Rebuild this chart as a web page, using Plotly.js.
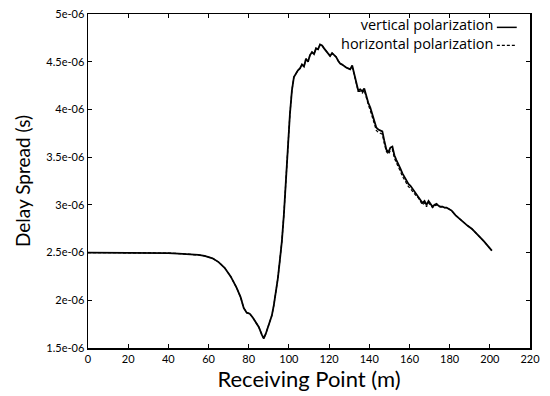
<!DOCTYPE html>
<html>
<head>
<meta charset="utf-8">
<script src="https://cdn.plot.ly/plotly-3.0.1.min.js"></script>
<style>html,body{margin:0;padding:0;background:#fff;}#chart{width:550px;height:396px;}</style>
</head>
<body>
<div id="chart"></div>
<script>
// Receiving point (m)
var xVert = [0,10,20,30,40,45,50,55,58,62,65,68,71,74,76,77.5,79,80.5,82,83.5,85,86.5,87.5,88.5,89.5,90.5,91.5,92.5,93.5,94.5,95.5,96.5,97.5,98.5,99.5,100.5,101.5,102.5,103.5,104.5,105.5,106.5,107.5,108.5,109.5,110.5,111.5,112.5,113.5,114.5,115.5,116.5,117.5,118.5,119.5,120.5,121.5,122.5,123.5,124.5,125.5,126.5,127.5,128.5,129.5,130.5,131.5,132.5,133.5,134.5,135.5,136.5,137.5,138.5,139.5,140.5,141.5,142.5,143.5,144.5,145.5,146.5,147.5,148.5,149.5,150.5,151.5,152.5,153.5,154.5,155.5,156.5,157.5,158.5,159.5,160.5,161.5,162.5,163.5,164.5,165.5,166.5,167.5,168.5,169.5,170.5,171.5,172.5,173.5,174.5,175.5,176.5,177.5,178.5,179.5,181,183,185,187,189,191,193,195,197,199,201];
// Delay spread (s), vertical polarization
var yVert = [2.50e-6,2.50e-6,2.50e-6,2.50e-6,2.495e-6,2.49e-6,2.485e-6,2.475e-6,2.465e-6,2.44e-6,2.40e-6,2.34e-6,2.25e-6,2.13e-6,2.03e-6,1.92e-6,1.87e-6,1.86e-6,1.82e-6,1.77e-6,1.72e-6,1.64e-6,1.60e-6,1.65e-6,1.71e-6,1.76e-6,1.84e-6,1.95e-6,2.08e-6,2.23e-6,2.42e-6,2.62e-6,2.90e-6,3.20e-6,3.60e-6,3.95e-6,4.20e-6,4.34e-6,4.38e-6,4.41e-6,4.43e-6,4.47e-6,4.45e-6,4.53e-6,4.50e-6,4.57e-6,4.60e-6,4.58e-6,4.64e-6,4.63e-6,4.68e-6,4.67e-6,4.64e-6,4.61e-6,4.58e-6,4.56e-6,4.59e-6,4.57e-6,4.55e-6,4.51e-6,4.48e-6,4.47e-6,4.45e-6,4.44e-6,4.43e-6,4.42e-6,4.46e-6,4.38e-6,4.28e-6,4.20e-6,4.21e-6,4.19e-6,4.22e-6,4.13e-6,4.07e-6,4.02e-6,3.95e-6,3.87e-6,3.81e-6,3.79e-6,3.78e-6,3.77e-6,3.67e-6,3.58e-6,3.55e-6,3.60e-6,3.61e-6,3.52e-6,3.47e-6,3.43e-6,3.38e-6,3.33e-6,3.29e-6,3.26e-6,3.22e-6,3.20e-6,3.17e-6,3.14e-6,3.12e-6,3.09e-6,3.06e-6,3.02e-6,3.04e-6,3.00e-6,3.04e-6,3.01e-6,2.98e-6,3.00e-6,3.01e-6,2.99e-6,2.98e-6,2.98e-6,2.97e-6,2.97e-6,2.96e-6,2.94e-6,2.89e-6,2.85e-6,2.81e-6,2.78e-6,2.75e-6,2.71e-6,2.67e-6,2.62e-6,2.57e-6,2.52e-6];
var xHoriz = [0,10,20,30,40,45,50,55,58,62,65,68,71,74,76,77.5,79,80.5,82,83.5,85,86.5,87.5,88.5,89.5,90.5,91.5,92.5,93.5,94.5,95.5,96.5,97.5,98.5,99.5,100.5,101.5,102.5,103.5,104.5,105.5,106.5,107.5,108.5,109.5,110.5,111.5,112.5,113.5,114.5,115.5,116.5,117.5,118.5,119.5,120.5,121.5,122.5,123.5,124.5,125.5,126.5,127.5,128.5,129.5,130.5,131.5,132.5,133.5,134.5,135.5,136.5,137.5,138.5,139.5,140.5,141.5,142.5,143.5,144.5,145.5,146.5,147.5,148.5,149.5,150.5,151.5,152.5,153.5,154.5,155.5,156.5,157.5,158.5,159.5,160.5,161.5,162.5,163.5,164.5,165.5,166.5,167.5,168.5,169.5,170.5,171.5,172.5,173.5,174.5,175.5,176.5,177.5,178.5,179.5,181,183,185,187,189,191,193,195,197,199,201];
// Delay spread (s), horizontal polarization
var yHoriz = [2.50e-6,2.50e-6,2.50e-6,2.50e-6,2.495e-6,2.49e-6,2.485e-6,2.475e-6,2.465e-6,2.44e-6,2.40e-6,2.34e-6,2.25e-6,2.13e-6,2.03e-6,1.92e-6,1.87e-6,1.86e-6,1.82e-6,1.77e-6,1.72e-6,1.64e-6,1.60e-6,1.65e-6,1.71e-6,1.76e-6,1.84e-6,1.95e-6,2.08e-6,2.23e-6,2.42e-6,2.62e-6,2.90e-6,3.20e-6,3.60e-6,3.95e-6,4.20e-6,4.34e-6,4.38e-6,4.41e-6,4.43e-6,4.47e-6,4.45e-6,4.53e-6,4.50e-6,4.57e-6,4.60e-6,4.58e-6,4.64e-6,4.63e-6,4.68e-6,4.67e-6,4.64e-6,4.61e-6,4.58e-6,4.56e-6,4.59e-6,4.57e-6,4.55e-6,4.51e-6,4.48e-6,4.47e-6,4.45e-6,4.44e-6,4.43e-6,4.42e-6,4.45e-6,4.36e-6,4.26e-6,4.19e-6,4.19e-6,4.17e-6,4.20e-6,4.11e-6,4.05e-6,3.99e-6,3.92e-6,3.84e-6,3.78e-6,3.76e-6,3.75e-6,3.74e-6,3.64e-6,3.56e-6,3.53e-6,3.57e-6,3.58e-6,3.49e-6,3.44e-6,3.40e-6,3.35e-6,3.30e-6,3.26e-6,3.23e-6,3.19e-6,3.17e-6,3.14e-6,3.11e-6,3.09e-6,3.07e-6,3.04e-6,3.00e-6,3.02e-6,2.98e-6,3.02e-6,2.99e-6,2.97e-6,2.99e-6,3.00e-6,2.98e-6,2.98e-6,2.98e-6,2.97e-6,2.97e-6,2.96e-6,2.94e-6,2.89e-6,2.85e-6,2.81e-6,2.78e-6,2.75e-6,2.71e-6,2.67e-6,2.62e-6,2.57e-6,2.52e-6];

var seriesNames = ["vertical polarization", "horizontal polarization"];
var xTickVals = [0,20,40,60,80,100,120,140,160,180,200,220];
var yTickVals = [1.5e-6,2e-6,2.5e-6,3e-6,3.5e-6,4e-6,4.5e-6,5e-6];
var yTickText = ["1.5e-06","2e-06","2.5e-06","3e-06","3.5e-06","4e-06","4.5e-06","5e-06"];
var xTitle = "Receiving Point (m)";
var yTitle = "Delay Spread (s)";

var FONT = "Lato, 'Open Sans', sans-serif";
var LEGFONT = "'Open Sans', Lato, sans-serif";

var traces = [
  {x: xVert, y: yVert, type: "scatter", mode: "lines", name: seriesNames[0],
   line: {color: "#000", width: 1.8}, showlegend: false},
  {x: xHoriz, y: yHoriz, type: "scatter", mode: "lines", name: seriesNames[1],
   line: {color: "#000", width: 1.2, dash: "3px,2px"}, showlegend: false}
];

var axisCommon = {
  showgrid: false, zeroline: false, showline: true, linecolor: "#000", linewidth: 1.5,
  mirror: "ticks", ticks: "inside", ticklen: 4, tickwidth: 1, tickcolor: "#000",
  tickfont: {family: FONT, size: 11, color: "#000"}
};

var layout = {
  width: 550, height: 396,
  paper_bgcolor: "#fff", plot_bgcolor: "#fff",
  margin: {l: 88, r: 20, t: 14, b: 48},
  showlegend: false,
  xaxis: Object.assign({}, axisCommon, {
    range: [0, 220], tickvals: xTickVals, ticktext: xTickVals.map(String),
    title: {text: xTitle, font: {family: FONT, size: 22, color: "#000"}, standoff: 4}
  }),
  yaxis: Object.assign({}, axisCommon, {
    range: [1.5e-6, 5e-6], tickvals: yTickVals, ticktext: yTickText,
    title: {text: yTitle, font: {family: FONT, size: 19, color: "#000"}, standoff: 10}
  }),
  annotations: [
    {xref: "paper", yref: "paper", x: 0.918, y: 0.939, xanchor: "right", yanchor: "middle",
     align: "right", borderpad: 0,
     text: seriesNames[0] + "<br>" + seriesNames[1], showarrow: false,
     font: {family: LEGFONT, size: 14.5, color: "#000"}}
  ],
  shapes: [
    {type: "line", xref: "paper", yref: "paper", x0: 0.925, x1: 0.970, y0: 0.960, y1: 0.960,
     line: {color: "#000", width: 1.5}},
    {type: "line", xref: "paper", yref: "paper", x0: 0.925, x1: 0.970, y0: 0.906, y1: 0.906,
     line: {color: "#000", width: 1.2, dash: "3px,2px"}}
  ]
};

Plotly.newPlot("chart", traces, layout, {staticPlot: true, displayModeBar: false});
</script>
</body>
</html>
